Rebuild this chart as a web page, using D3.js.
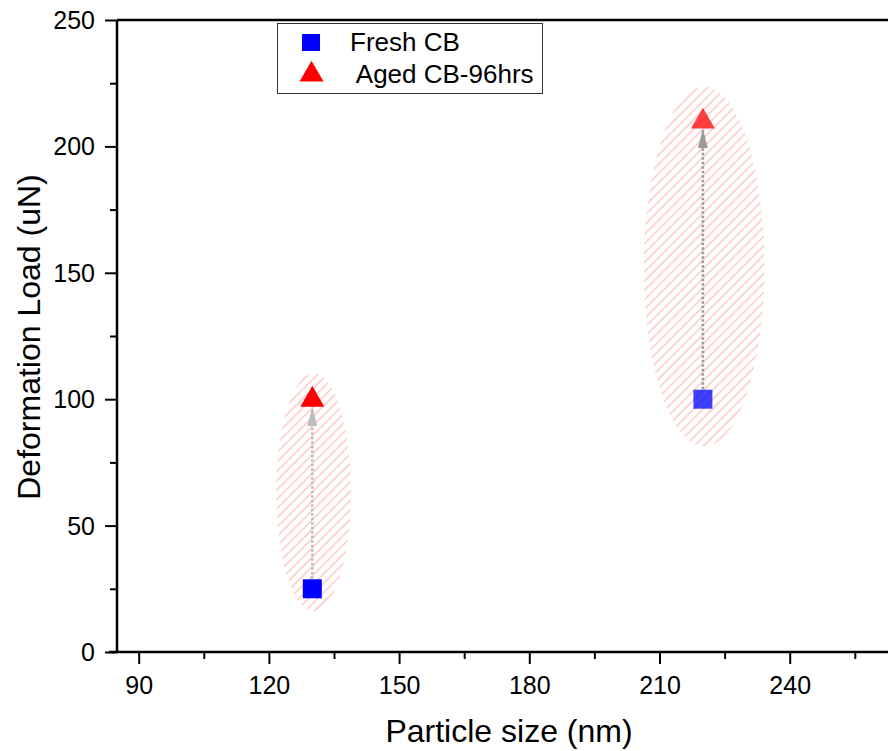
<!DOCTYPE html>
<html><head><meta charset="utf-8">
<script src="https://cdn.jsdelivr.net/npm/d3@7"></script>
<style>body{margin:0;background:#fff}svg{display:block;font-family:"Liberation Sans",Arial,sans-serif}</style>
</head><body><svg id="c" width="888" height="751"></svg>
<script>
const sizes = [130, 220];
const freshLoad = [25, 100];
const agedLoad = [100, 210];
const seriesNames = ["Fresh CB", " Aged CB-96hrs"];
const xTicks = [90, 120, 150, 180, 210, 240];
const yTicks = [0, 50, 100, 150, 200, 250];
// ellipse highlight regions: center size, center load, half-width (nm), half-height (uN)
const ellCx = [130.3, 220.3];
const ellCy = [63.1, 152.4];
const ellRx = [8.6, 13.9];
const ellRy = [47.1, 71.2];

const svg = d3.select("#c");
const L = 117, T = 20, B = 652;
const x = d3.scaleLinear().domain([85, 270]).range([L, L + 185 * (130.2 / 30)]);
const y = d3.scaleLinear().domain([0, 250]).range([B, T]);

const defs = svg.append("defs");
const pat = defs.append("pattern").attr("id", "hatch").attr("patternUnits", "userSpaceOnUse")
  .attr("width", 6.6).attr("height", 8).attr("patternTransform", "rotate(45)");
pat.append("line").attr("x1", 1).attr("y1", 0).attr("x2", 1).attr("y2", 8)
  .attr("stroke", "#ffa8a8").attr("stroke-width", 1);
const arrowCol = ["#bdbdbd", "#9a9a9a"];
arrowCol.forEach((c, i) => {
  defs.append("marker").attr("id", "arr" + i).attr("viewBox", "0 0 19 10").attr("refX", 19).attr("refY", 5)
    .attr("markerWidth", 19).attr("markerHeight", 10).attr("markerUnits", "userSpaceOnUse").attr("orient", "auto")
    .append("path").attr("d", "M0,0L19,5L0,10Z").attr("fill", c);
});

// ellipses
svg.append("g").selectAll("ellipse").data(ellCx).join("ellipse")
  .attr("cx", d => x(d)).attr("cy", (d, i) => y(ellCy[i]))
  .attr("rx", (d, i) => x(d + ellRx[i]) - x(d)).attr("ry", (d, i) => y(0) - y(ellRy[i]))
  .attr("fill", "url(#hatch)");

// arrows
svg.append("g").selectAll("line").data(sizes).join("line")
  .attr("x1", d => x(d)).attr("x2", d => x(d))
  .attr("y1", (d, i) => y(freshLoad[i]) - 10).attr("y2", (d, i) => y(agedLoad[i]) + 8)
  .attr("stroke", (d, i) => arrowCol[i]).attr("stroke-width", 2.6).attr("stroke-dasharray", "2.5,2")
  .attr("marker-end", (d, i) => `url(#arr${i})`);

// axes
const xAxis = d3.axisBottom(x).tickValues(d3.range(90, 270, 15)).tickSize(8)
  .tickFormat(d => xTicks.includes(d) ? d : "");
const gx = svg.append("g").attr("transform", `translate(0,${B})`).call(xAxis);
gx.selectAll(".tick line").attr("y2", d => xTicks.includes(d) ? 12 : 7);
const yAxis = d3.axisLeft(y).tickValues(d3.range(0, 251, 25)).tickSize(8)
  .tickFormat(d => yTicks.includes(d) ? d : "");
const gy = svg.append("g").attr("transform", `translate(${L},0)`).call(yAxis);
gy.selectAll(".tick line").attr("x2", d => yTicks.includes(d) ? -12 : -7);
[gx, gy].forEach(g => {
  g.attr("font-size", 25).attr("font-family", "'Liberation Sans',Arial,sans-serif");
  g.select(".domain").attr("stroke", "#000").attr("stroke-width", 2.5);
  g.selectAll(".tick line").attr("stroke", "#000").attr("stroke-width", 2);
  g.selectAll("text").attr("fill", "#000").style("font-size", "25px");
});
gx.select(".domain").attr("d", `M${L - 8},0H888`);
gy.select(".domain").attr("d", `M0,${B}V${T}`);
gx.selectAll("text").attr("y", 24).attr("dy", "0.71em");
gy.selectAll("text").attr("x", -22).attr("dy", "0.34em");
svg.append("line").attr("x1", L).attr("x2", 888).attr("y1", T).attr("y2", T).attr("stroke", "#000").attr("stroke-width", 2.5);

// markers
const sq = 19;
svg.append("g").selectAll("rect").data(sizes).join("rect")
  .attr("x", d => x(d) - sq / 2).attr("y", (d, i) => y(freshLoad[i]) - sq / 2)
  .attr("width", sq).attr("height", sq).attr("fill", "#0000ff").attr("fill-opacity", (d, i) => i ? 0.75 : 1);
const tri = d3.symbol().type(d3.symbolTriangle).size(250);
svg.append("g").selectAll("path").data(sizes).join("path")
  .attr("transform", (d, i) => `translate(${x(d)},${y(agedLoad[i]) + 0.5})`)
  .attr("d", tri).attr("fill", "#ff0000").attr("fill-opacity", (d, i) => i ? 0.75 : 1);

// titles
svg.append("text").attr("x", 509).attr("y", 742).attr("text-anchor", "middle")
  .style("font-size", "32px").text("Particle size (nm)");
svg.append("text").attr("transform", "translate(40,337) rotate(-90)").attr("text-anchor", "middle")
  .style("font-size", "32px").text("Deformation Load (uN)");

// legend
const lg = svg.append("g");
lg.append("rect").attr("x", 277.5).attr("y", 23.5).attr("width", 265).attr("height", 70)
  .attr("fill", "#fff").attr("stroke", "#333").attr("stroke-width", 1);
lg.append("rect").attr("x", 302).attr("y", 34).attr("width", 18).attr("height", 17).attr("fill", "#0000ff");
lg.append("path").attr("transform", "translate(311.5,74.5)").attr("d", tri).attr("fill", "#ff0000");
lg.selectAll("text.lt").data(seriesNames).join("text").attr("class", "lt")
  .attr("x", 350).attr("y", (d, i) => 51 + i * 32.3).style("font-size", "26px")
  .style("white-space", "pre").attr("xml:space", "preserve").text(d => d);
</script></body></html>
